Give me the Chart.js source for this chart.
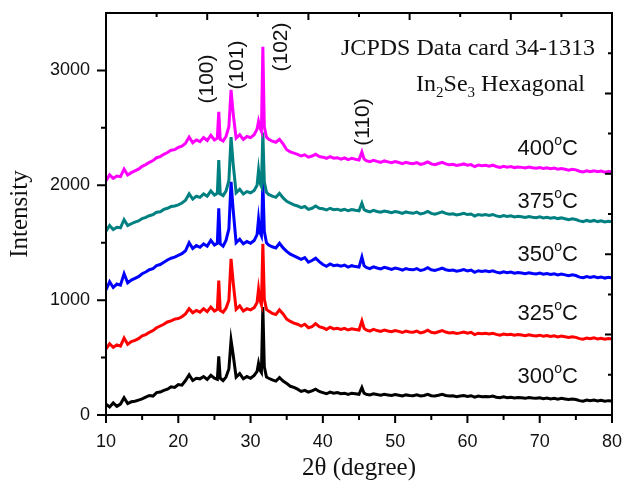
<!DOCTYPE html>
<html>
<head>
<meta charset="utf-8">
<script src="https://cdn.jsdelivr.net/npm/chart.js@4/dist/chart.umd.min.js"></script>
<style>
  html, body { margin: 0; padding: 0; background: #fff; }
  #wrap { width: 624px; height: 483px; position: relative; }
</style>
</head>
<body>
<div id="wrap"><canvas id="xrd"></canvas></div>
<script>
// --- Data: 2θ (degree) and intensity of each annealing temperature ---
const twoTheta = [
  10, 10.5, 11, 11.5, 12, 12.5, 13, 13.5, 14, 14.5, 15, 15.5, 16, 16.5, 17, 17.5, 18, 18.5, 19, 19.5,
  20, 20.5, 21, 21.5, 22, 22.5, 23, 23.5, 24, 24.5, 25,
  25.4, 25.6, 25.8, 26.2, 26.6, 27, 27.3, 27.6, 28, 28.5, 29, 29.5, 30, 30.5, 30.9, 31.1, 31.3, 31.5, 31.7,
  31.9, 32.2, 32.5, 33,
  33.5, 34, 34.5, 35, 35.5, 36, 36.5, 37, 37.5, 38, 38.5, 39, 39.5, 40, 40.5, 41, 41.5, 42, 42.5, 43,
  43.5, 44, 44.5, 45,
  45.4, 45.7, 46, 46.5, 47, 47.5, 48, 48.5, 49, 49.5, 50, 50.5, 51, 51.5, 52, 52.5, 53, 53.5, 54, 54.5,
  55, 55.5, 56, 56.5, 57, 57.5, 58, 58.5, 59, 59.5, 60, 60.5, 61, 61.5, 62, 62.5, 63, 63.5, 64, 64.5,
  65, 65.5, 66, 66.5, 67, 67.5, 68, 68.5, 69, 69.5, 70, 70.5, 71, 71.5, 72, 72.5, 73, 73.5, 74, 74.5,
  75, 75.5, 76, 76.5, 77, 77.5, 78, 78.5, 79, 79.5, 80
];

const int300 = [
  95, 70, 105, 75, 95, 150, 100, 115, 120, 130, 140, 155, 170, 165, 195, 200, 215, 225, 245, 240,
  265, 260, 300, 350, 300, 320, 315, 335, 310, 345, 320,
  310, 510, 320, 300, 330, 400, 650, 520, 330, 360, 315, 335, 320, 345, 380, 450, 390, 370, 940,
  420, 330, 320, 305,
  295, 325, 295, 275, 250, 240, 225, 205, 215, 200, 210, 225, 205, 195, 185, 200, 190, 195, 185, 190,
  180, 190, 185, 180,
  240, 190, 180, 175, 185, 178, 172, 180, 175, 170, 178, 172, 165, 175, 170, 168, 175, 165, 170, 180,
  168, 165, 172, 180, 170, 165, 168, 160, 165, 170, 162, 168, 155, 165, 160, 162, 158, 165, 155, 150,
  158, 150, 155, 148, 152, 150, 145, 152, 148, 145, 150, 142, 148, 140, 145, 138, 145, 140, 135, 140,
  135, 125, 120, 130, 125, 130, 122, 128, 120, 125, 122
];

const int325 = [
  575, 620, 590, 610, 600, 670, 615, 640, 650, 665, 690, 700, 720, 735, 760, 775, 790, 810, 820, 835,
  840, 855, 880, 925, 890, 910, 895, 925, 900, 940, 905,
  920, 1170, 910, 895, 930, 1000, 1360, 1150, 920, 950, 905, 925, 915, 935, 980, 1095, 1000, 960, 1490,
  1010, 920, 905, 885,
  875, 915, 880, 835, 815, 800, 790, 775, 790, 760, 770, 795, 770, 760, 745, 765, 750, 755, 745, 755,
  740, 750, 745, 740,
  820, 755, 740, 730, 745, 735, 728, 740, 732, 725, 735, 728, 718, 730, 722, 720, 730, 715, 722, 738,
  720, 715, 725, 735, 722, 715, 718, 710, 715, 722, 712, 720, 700, 712, 708, 712, 705, 712, 702, 695,
  705, 698, 702, 694, 700, 696, 690, 698, 692, 688, 695, 686, 692, 684, 690, 680, 688, 682, 676, 682,
  676, 665, 660, 670, 664, 672, 662, 668, 660, 665, 662
];

const int350 = [
  1090, 1160, 1110, 1140, 1130, 1230, 1150, 1175, 1190, 1205, 1230, 1245, 1265, 1275, 1300, 1310, 1330, 1350, 1365, 1375,
  1390, 1405, 1430, 1500, 1450, 1475, 1460, 1490, 1470, 1520, 1480,
  1495, 1800, 1490, 1470, 1520, 1620, 2030, 1780, 1500, 1530, 1490, 1510, 1495, 1520, 1570, 1705, 1590, 1560, 2030,
  1600, 1500, 1480, 1465,
  1455, 1495, 1455, 1425, 1400, 1385, 1370, 1355, 1370, 1330, 1345, 1365, 1335, 1310, 1295, 1315, 1300, 1305, 1295, 1305,
  1288, 1300, 1292, 1288,
  1375, 1300, 1285, 1275, 1290, 1280, 1272, 1285, 1278, 1268, 1280, 1272, 1262, 1275, 1266, 1264, 1274, 1258, 1266, 1282,
  1264, 1258, 1268, 1278, 1265, 1258, 1262, 1252, 1258, 1266, 1255, 1262, 1242, 1256, 1250, 1255, 1248, 1256, 1244, 1236,
  1246, 1238, 1244, 1234, 1240, 1236, 1230, 1238, 1232, 1228, 1235, 1226, 1232, 1224, 1230, 1220, 1228, 1220, 1212, 1220,
  1214, 1200, 1195, 1206, 1198, 1206, 1196, 1202, 1192, 1198, 1192
];

const int375 = [
  1600, 1650, 1615, 1635, 1630, 1700, 1650, 1665, 1680, 1690, 1710, 1720, 1735, 1745, 1765, 1770, 1790, 1800, 1815, 1820,
  1830, 1845, 1870, 1925, 1880, 1905, 1895, 1925, 1905, 1950, 1915,
  1930, 2220, 1925, 1910, 1950, 2040, 2420, 2180, 1935, 1965, 1925, 1945, 1935, 1955, 2000, 2130, 2020, 1990, 2460,
  2030, 1940, 1920, 1905,
  1895, 1930, 1890, 1860, 1845, 1830, 1820, 1805, 1815, 1790, 1800, 1820, 1800, 1795, 1785, 1800, 1788, 1792, 1782, 1790,
  1778, 1788, 1782, 1778,
  1845, 1790, 1778, 1768, 1782, 1772, 1765, 1776, 1770, 1762, 1772, 1765, 1755, 1768, 1760, 1756, 1766, 1750, 1758, 1772,
  1755, 1748, 1758, 1768, 1755, 1748, 1752, 1742, 1748, 1756, 1745, 1750, 1732, 1746, 1740, 1745, 1738, 1746, 1734, 1726,
  1736, 1728, 1734, 1724, 1730, 1726, 1720, 1728, 1722, 1718, 1725, 1716, 1722, 1714, 1720, 1710, 1716, 1708, 1700, 1708,
  1702, 1690, 1684, 1694, 1686, 1694, 1684, 1690, 1680, 1686, 1682
];

const int400 = [
  2040, 2090, 2060, 2080, 2075, 2140, 2090, 2110, 2125, 2140, 2165, 2180, 2200, 2215, 2240, 2250, 2270, 2285, 2305, 2310,
  2330, 2340, 2365, 2420, 2370, 2395, 2380, 2415, 2390, 2435, 2395,
  2410, 2640, 2400, 2385, 2425, 2510, 2830, 2620, 2410, 2440, 2400, 2425, 2415, 2440, 2490, 2555, 2500, 2470, 3205,
  2510, 2420, 2400, 2385,
  2375, 2400, 2360, 2310, 2290, 2280, 2270, 2255, 2265, 2245, 2255, 2270, 2250, 2245, 2235, 2250, 2236, 2240, 2228, 2238,
  2224, 2234, 2226, 2220,
  2290, 2230, 2215, 2205, 2218, 2208, 2200, 2212, 2204, 2196, 2206, 2198, 2188, 2200, 2192, 2188, 2198, 2182, 2190, 2204,
  2186, 2180, 2190, 2200, 2186, 2178, 2182, 2172, 2178, 2186, 2175, 2180, 2162, 2176, 2170, 2174, 2166, 2175, 2164, 2156,
  2166, 2158, 2164, 2154, 2160, 2156, 2150, 2158, 2152, 2148, 2155, 2146, 2152, 2144, 2150, 2140, 2146, 2140, 2132, 2140,
  2134, 2122, 2116, 2126, 2118, 2126, 2118, 2124, 2114, 2120, 2118
];

// Tick values
const xMajor = [10, 20, 30, 40, 50, 60, 70, 80];
const xMinor = [15, 25, 35, 45, 55, 65, 75];
const yMajor = [0, 1000, 2000, 3000];
const yMinor = [500, 1500, 2500];
const topMajor = [10, 24, 38, 52, 66, 80];
const topMinor = [17, 31, 45, 59, 73];
const rightMajor = [700, 1400, 2100, 2800];
const rightMinor = [350, 1050, 1750, 2450, 3150];

const series = [
  { label: '400', data: int400, color: '#ff00ff' },
  { label: '375', data: int375, color: '#008080' },
  { label: '350', data: int350, color: '#0000ff' },
  { label: '325', data: int325, color: '#ff0000' },
  { label: '300', data: int300, color: '#000000' },
];

const SANS = "'Liberation Sans', Arial, sans-serif";
const SERIF = "'Liberation Serif', 'Times New Roman', serif";

// draws pieces of text (normal / sub / sup) right-aligned at xr
function drawRuns(ctx, runs, xr, base) {
  let w = 0;
  runs.forEach(r => { ctx.font = r.font; w += ctx.measureText(r.t).width; });
  let x = xr - w;
  ctx.textAlign = 'left';
  ctx.textBaseline = 'alphabetic';
  runs.forEach(r => {
    ctx.font = r.font;
    ctx.fillText(r.t, x, base + (r.dy || 0));
    x += ctx.measureText(r.t).width;
  });
}

const framePlugin = {
  id: 'frame',
  afterDatasetsDraw(chart) {
    const { ctx, chartArea: a, scales: { x, y } } = chart;
    ctx.save();
    ctx.strokeStyle = '#000';
    ctx.lineWidth = 2;
    ctx.strokeRect(a.left, a.top, a.right - a.left, a.bottom - a.top);

    ctx.beginPath();
    // bottom: outward
    xMajor.forEach(v => { const px = x.getPixelForValue(v); ctx.moveTo(px, a.bottom); ctx.lineTo(px, a.bottom + 8); });
    xMinor.forEach(v => { const px = x.getPixelForValue(v); ctx.moveTo(px, a.bottom); ctx.lineTo(px, a.bottom + 5); });
    // top: inward
    topMajor.forEach(v => { const px = x.getPixelForValue(v); ctx.moveTo(px, a.top); ctx.lineTo(px, a.top + 7); });
    topMinor.forEach(v => { const px = x.getPixelForValue(v); ctx.moveTo(px, a.top); ctx.lineTo(px, a.top + 4); });
    // left: outward
    yMajor.forEach(v => { const py = y.getPixelForValue(v); ctx.moveTo(a.left, py); ctx.lineTo(a.left - 9, py); });
    yMinor.forEach(v => { const py = y.getPixelForValue(v); ctx.moveTo(a.left, py); ctx.lineTo(a.left - 5, py); });
    // right: inward
    rightMajor.forEach(v => { const py = y.getPixelForValue(v); ctx.moveTo(a.right, py); ctx.lineTo(a.right - 7, py); });
    rightMinor.forEach(v => { const py = y.getPixelForValue(v); ctx.moveTo(a.right, py); ctx.lineTo(a.right - 4, py); });
    ctx.stroke();

    ctx.fillStyle = '#111';
    // card note
    drawRuns(ctx, [{ t: 'JCPDS Data card 34-1313', font: '24px ' + SERIF }], 595, 55);
    drawRuns(ctx, [
      { t: 'In', font: '24px ' + SERIF },
      { t: '2', font: '15px ' + SERIF, dy: 6 },
      { t: 'Se', font: '24px ' + SERIF },
      { t: '3', font: '15px ' + SERIF, dy: 6 },
      { t: ' Hexagonal', font: '24px ' + SERIF },
    ], 585, 91);

    // temperature labels
    const tempY = { '400': 155, '375': 208, '350': 261, '325': 320, '300': 383 };
    series.forEach(s => {
      drawRuns(ctx, [
        { t: s.label, font: '22px ' + SANS },
        { t: 'o', font: '14px ' + SANS, dy: -10 },
        { t: 'C', font: '22px ' + SANS },
      ], 578, tempY[s.label]);
    });

    // Miller indices, rotated
    const hkl = [['(100)', 207, 79], ['(101)', 237, 65], ['(102)', 281, 47], ['(110)', 363, 122]];
    ctx.font = '21px ' + SANS;
    ctx.textAlign = 'center';
    ctx.textBaseline = 'middle';
    hkl.forEach(([t, px, py]) => {
      ctx.save();
      ctx.translate(px, py);
      ctx.rotate(-Math.PI / 2);
      ctx.fillText(t, 0, 0);
      ctx.restore();
    });
    ctx.restore();
  }
};

new Chart(document.getElementById('xrd'), {
  type: 'line',
  data: {
    labels: twoTheta,
    datasets: series.map(s => ({
      label: s.label + '°C',
      data: s.data.map((v, i) => ({ x: twoTheta[i], y: v })),
      borderColor: s.color,
      borderWidth: 3,
      pointRadius: 0,
      tension: 0,
      fill: false
    }))
  },
  options: {
    responsive: true,
    maintainAspectRatio: false,
    animation: false,
    layout: { padding: { top: 13, right: 12, left: 0, bottom: 0 } },
    plugins: { legend: { display: false }, tooltip: { enabled: false } },
    scales: {
      x: {
        type: 'linear',
        min: 10, max: 80,
        grid: { display: false, drawTicks: false },
        border: { display: false },
        afterBuildTicks: s => { s.ticks = xMajor.map(v => ({ value: v })); },
        afterFit: s => { s.height = 68; s.paddingLeft = 0; s.paddingRight = 0; },
        ticks: { color: '#111', padding: 16, font: { family: SANS, size: 18 } },
        title: { display: true, text: '2θ (degree)', color: '#111', padding: { top: 0, bottom: 0 }, font: { family: SERIF, size: 25 } }
      },
      y: {
        min: 0, max: 3500,
        grid: { display: false, drawTicks: false },
        border: { display: false },
        afterBuildTicks: s => { s.ticks = yMajor.map(v => ({ value: v })); },
        afterFit: s => { s.width = 106; s.paddingTop = 0; s.paddingBottom = 0; },
        ticks: { color: '#111', padding: 16, font: { family: SANS, size: 18 }, callback: v => String(v) },
        title: { display: true, text: 'Intensity', color: '#111', padding: { top: 5, bottom: 0 }, font: { family: SERIF, size: 25 } }
      }
    }
  },
  plugins: [framePlugin]
});
</script>
</body>
</html>
